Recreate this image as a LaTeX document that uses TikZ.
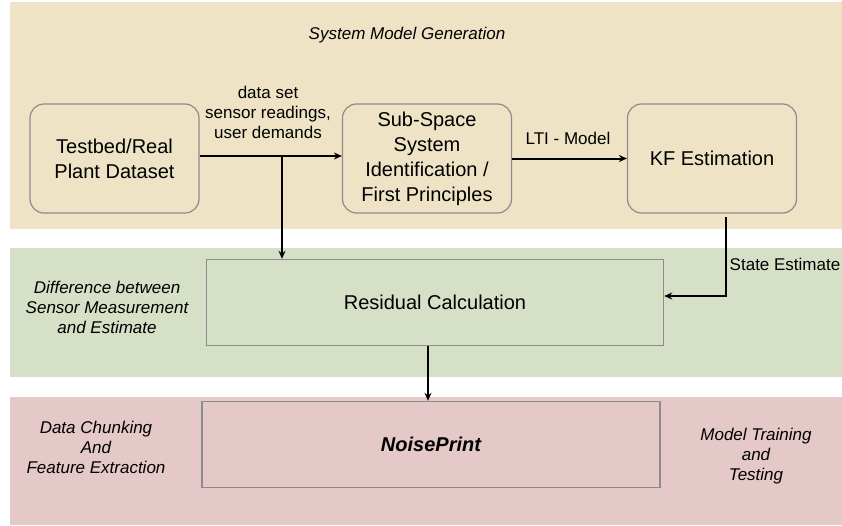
\documentclass[tikz,border=0pt]{standalone}
\usepackage{fontspec}
\setmainfont{Liberation Sans}
\usetikzlibrary{arrows.meta,calc}
\definecolor{bandbeige}{HTML}{EFE3C6}
\definecolor{bandgreen}{HTML}{D5E0C6}
\definecolor{bandpink}{HTML}{E5C8C8}
\definecolor{boxline}{HTML}{8C8C8C}
\begin{document}
\begin{tikzpicture}[x=1pt,y=-1pt,
  bigtext/.style={font=\fontsize{20}{25}\selectfont},
  smalltext/.style={font=\fontsize{17}{20}\selectfont, align=center, inner sep=0pt},
  itlabel/.style={font=\fontsize{17}{20}\selectfont\itshape, align=center, inner sep=0pt},
  rbox/.style={draw=boxline, line width=1.2pt, rounded corners=14pt, minimum width=169pt, minimum height=109pt, inner sep=0pt, align=center, bigtext},
  sbox/.style={draw=boxline, line width=1.4pt, minimum width=457pt, minimum height=86pt, inner sep=0pt, align=center, bigtext},
  arr/.style={line width=2pt, -{Stealth[length=8pt,width=7pt]}},
  ln/.style={line width=2pt}]
\useasboundingbox (0,0) rectangle (842,525);
% bands
\fill[bandbeige] (10,2) rectangle (842,229);
\fill[bandgreen] (10,248) rectangle (842,377);
\fill[bandpink] (10,397) rectangle (842,525);
% titles
\node[itlabel] (title1) at (407,35) {System Model Generation};
% boxes
\node[rbox, fill=bandbeige] (testbed) at (114.5,158.5) {Testbed/Real\\Plant Dataset};
\node[rbox, fill=bandbeige] (subspace) at (427,158.5) {Sub-Space\\System\\Identification /\\First Principles};
\node[rbox, fill=bandbeige] (kf) at (712,158.5) {KF Estimation};
\node[sbox, fill=bandgreen] (residual) at (435,302.5) {Residual Calculation};
\node[sbox, fill=bandpink, minimum width=458pt] (noise) at (431,444.5) {\bfseries\itshape NoisePrint};
% side labels
\node[itlabel] (diff) at (107,307) {Difference between\\Sensor Measurement\\and Estimate};
\node[itlabel] (chunk) at (96,447) {Data Chunking\\And\\Feature Extraction};
\node[itlabel] (train) at (756,456) {Model Training\\and\\Testing};
% connectors
\draw[arr] ([yshift=2.5pt]testbed.east) -- ([yshift=2.5pt]subspace.west);
\node[smalltext] (dslabel) at (268,112) {data set\\sensor readings,\\user demands};
\coordinate (br) at (282,156);
\draw[arr] (br) -- (br |- residual.north);
\draw[arr] (subspace.east) -- (kf.west);
\node[smalltext] (lti) at (568,138) {LTI - Model};
\coordinate (kfo) at (726,217);
\draw[arr] (kfo) |- ([yshift=6.5pt]residual.east);
\node[smalltext] (state) at (785,264) {State Estimate};
\draw[arr] ([xshift=-7pt]residual.south) -- ([xshift=-7pt]residual.south |- noise.north);
\end{tikzpicture}
\end{document}
